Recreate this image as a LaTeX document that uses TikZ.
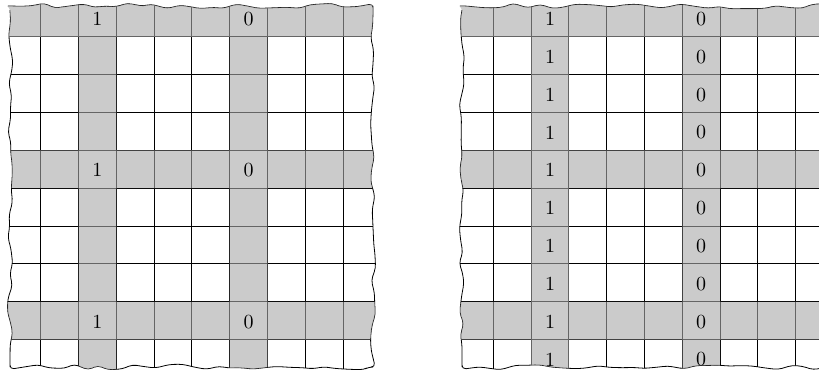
\documentclass[tikz,border=0pt]{standalone}
\usetikzlibrary{decorations.pathmorphing}
\definecolor{shadegray}{RGB}{169,169,169}
\begin{document}
\begin{tikzpicture}[x=0.5pt,y=-0.5pt,
  gridline/.style={line width=0.45pt, black},
  shadefill/.style={fill=shadegray, fill opacity=0.6},
  tornedge/.style={decorate, decoration={random steps, segment length=6pt, amplitude=1.4pt}, rounded corners=2pt},
  outline/.style={line width=0.4pt, black},
  lbl/.style={inner sep=0pt}]
\useasboundingbox (0,0) rectangle (819,374);
\clip (0,0) rectangle (819,374);
% ---------------- left panel ----------------
\begin{scope}
  \pgfmathsetseed{7}
  \path[tornedge, clip] (10,6) rectangle (373,367);
  \foreach \k in {0,...,8}
    \draw[gridline] ({40.7+37.8*\k},0) -- ({40.7+37.8*\k},374);
  \foreach \j in {0,...,8}
    \draw[gridline] (0,{36.8+37.85*\j}) -- (400,{36.8+37.85*\j});
\end{scope}
\pgfmathsetseed{7}
\draw[outline, tornedge] (10,6) rectangle (373,367);
\begin{scope}
  \pgfmathsetseed{7}
  \path[tornedge, clip] (10,6) rectangle (373,367);
  \fill[shadefill] (78.5,0) rectangle (116.3,374)
                   (229.7,0) rectangle (267.5,374)
                   (0,0) rectangle (400,36.8)
                   (0,150.35) rectangle (400,188.2)
                   (0,301.75) rectangle (400,339.6);
\end{scope}
\foreach \r in {0,4,8} {
  \node[lbl] (LA\r) at (97.4,{18.9+37.85*\r}) {1};
  \node[lbl] (LB\r) at (248.6,{18.9+37.85*\r}) {0};
}
% ---------------- right panel ----------------
\begin{scope}
  \pgfmathsetseed{23}
  \path[tornedge, clip] (462,6) rectangle (830,367);
  \foreach \k in {0,...,8}
    \draw[gridline] ({493.3+37.8*\k},0) -- ({493.3+37.8*\k},374);
  \foreach \j in {0,...,8}
    \draw[gridline] (440,{36.8+37.85*\j}) -- (840,{36.8+37.85*\j});
\end{scope}
\pgfmathsetseed{23}
\draw[outline, tornedge] (462,6) rectangle (830,367);
\begin{scope}
  \pgfmathsetseed{23}
  \path[tornedge, clip] (462,6) rectangle (830,367);
  \fill[shadefill] (531.1,0) rectangle (568.9,374)
                   (682.3,0) rectangle (720.1,374)
                   (440,0) rectangle (840,36.8)
                   (440,150.35) rectangle (840,188.2)
                   (440,301.75) rectangle (840,339.6);
\end{scope}
\foreach \r in {0,...,9} {
  \node[lbl] (RA\r) at (550,{18.9+37.85*\r}) {1};
  \node[lbl] (RB\r) at (701.2,{18.9+37.85*\r}) {0};
}
\end{tikzpicture}
\end{document}
